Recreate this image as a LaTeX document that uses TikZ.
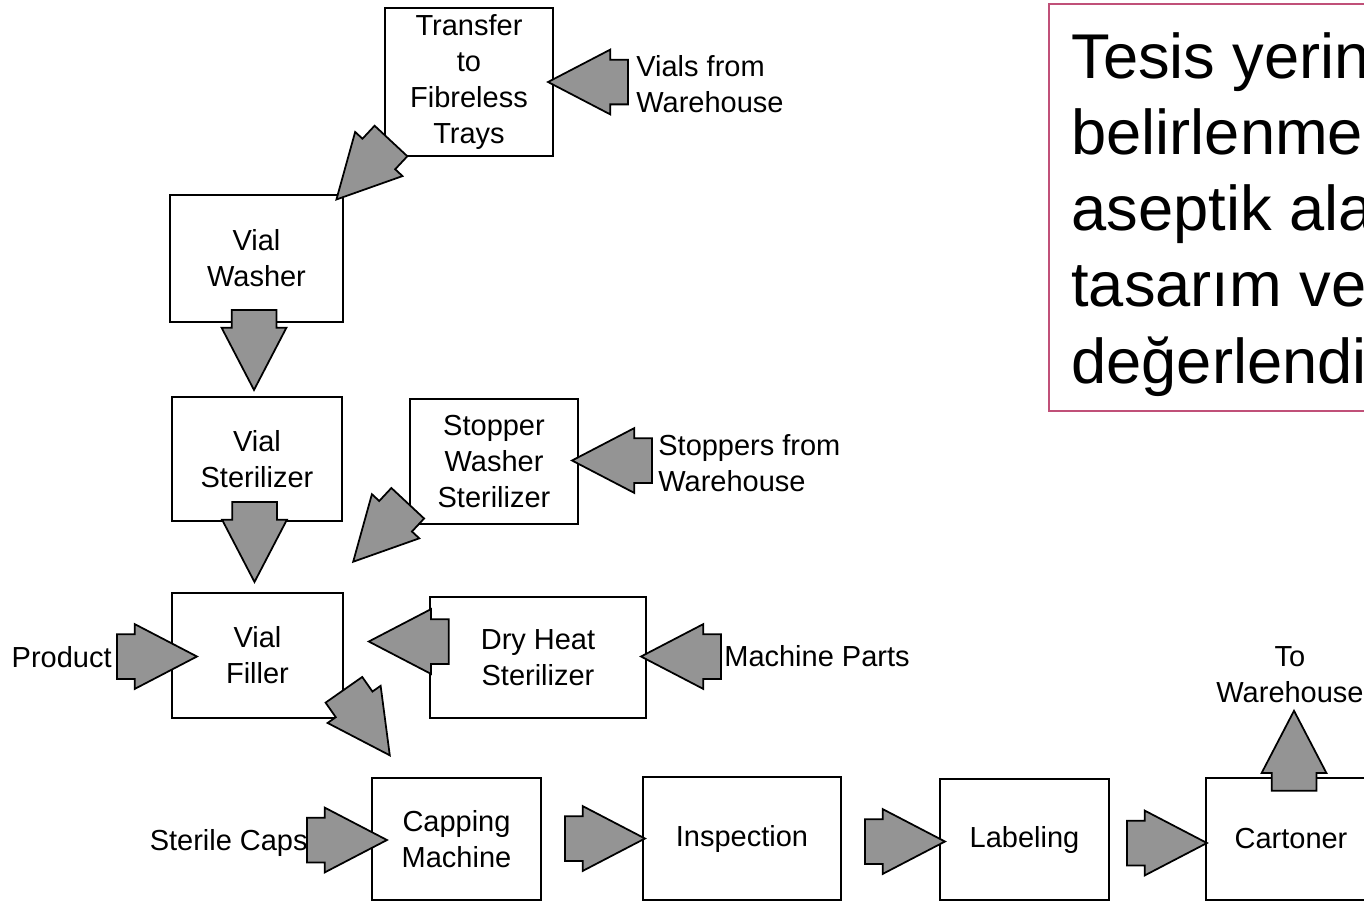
\documentclass[tikz,border=0pt]{standalone}
\usepackage{fontspec}
\setmainfont{Liberation Sans}
\usetikzlibrary{shapes.arrows,calc}
\definecolor{notepink}{RGB}{192,80,120}

\begin{document}
\begin{tikzpicture}[
  x=0.02cm, y=-0.02cm,
  procbox/.style={rectangle, draw, line width=1.3pt, fill=white, align=center,
    inner sep=0pt, font=\fontsize{16.5}{20.5}\selectfont},
  sidetext/.style={align=left, inner sep=0pt, font=\fontsize{16.5}{20.5}\selectfont},
  blockarr/.style={single arrow, draw, line width=1pt, fill=black!42,
    inner xsep=0pt, inner ysep=0.43cm, minimum height=1.6cm,
    single arrow head extend=0.2cm, single arrow tip angle=55, anchor=tip},
  notetext/.style={align=left, inner sep=0pt, font=\fontsize{36}{43.4}\selectfont}
]
\clip (0,0) rectangle (1364,903);

% Vial line
\node[procbox, minimum width=3.36cm, minimum height=2.96cm] (transfer) at (469,82) {Transfer\\to\\Fibreless\\Trays};
\node[procbox, minimum width=3.46cm, minimum height=2.54cm] (washer) at (256.5,258.5) {Vial\\Washer};
\node[procbox, minimum width=3.40cm, minimum height=2.48cm] (vster) at (257,459) {Vial\\Sterilizer};
\node[procbox, minimum width=3.42cm, minimum height=2.50cm] (filler) at (257.5,655.5) {Vial\\Filler};

% Side feeds
\node[procbox, minimum width=3.36cm, minimum height=2.50cm] (stopper) at (494,461.5) {Stopper\\Washer\\Sterilizer};
\node[procbox, minimum width=4.32cm, minimum height=2.42cm] (dryheat) at (538,657.5) {Dry Heat\\Sterilizer};

% Bottom line
\node[procbox, minimum width=3.38cm, minimum height=2.44cm] (capping) at (456.5,839) {Capping\\Machine};
\node[procbox, minimum width=3.96cm, minimum height=2.46cm] (inspect) at (742,838.5) {Inspection};
\node[procbox, minimum width=3.38cm, minimum height=2.42cm] (label) at (1024.5,839.5) {Labeling};
\node[procbox, minimum width=3.40cm, minimum height=2.44cm] (carton) at (1291,839) {Cartoner};

% Inputs and outputs
\node[sidetext, anchor=west] (vialsrc) at (636,84) {Vials from\\Warehouse};
\node[sidetext, anchor=west] (stopsrc) at (658,463) {Stoppers from\\Warehouse};
\node[sidetext, anchor=west] (partsrc) at (724,656) {Machine Parts};
\node[sidetext, anchor=east] (prodsrc) at (112,657) {Product};
\node[sidetext, anchor=east] (capsrc) at (308,843) {Sterile Caps};
\node[sidetext, align=center] (towh) at (1290,675) {To\\Warehouse};

% Block arrows
\node[blockarr, rotate=180] (vialin) at ($(transfer.east)+(-8,0)$) {};
\node[blockarr, rotate=227] (tr2wash) at ($(washer.north east)+(-9,7)$) {};
\node[blockarr, rotate=270] (wash2ster) at ($(vster.north)+(-3,-4)$) {};
\node[blockarr, rotate=270] (ster2fill) at ($(filler.north)+(-3,-8)$) {};
\node[blockarr, rotate=180] (stopin) at ($(stopper.east)+(-9,-1)$) {};
\node[blockarr, rotate=227] (stop2fill) at ($(stopper.south west)+(-57,38)$) {};
\node[blockarr] (prodin) at ($(filler.west)+(28,1)$) {};
\node[blockarr, rotate=180] (dry2fill) at ($(dryheat.west)+(-62,-16)$) {};
\node[blockarr, rotate=180] (partin) at ($(dryheat.east)+(-8,-1)$) {};
\node[blockarr, rotate=305] (fill2cap) at ($(capping.north west)+(20,-20)$) {};
\node[blockarr] (capin) at ($(capping.west)+(18,1)$) {};
\node[blockarr] (cap2insp) at ($(inspect.west)+(5,0)$) {};
\node[blockarr] (insp2lab) at ($(label.west)+(8,2)$) {};
\node[blockarr] (lab2cart) at ($(carton.west)+(4,4)$) {};
\node[blockarr, rotate=90] (cartout) at ($(carton.north)+(3,-68)$) {};

% Note box
\draw[notepink, line width=1.1pt] (1049,4) rectangle (1420,411);
\node[notetext, anchor=north west] (note) at (1071,32) {Tesis yerinin\\belirlenmesi,\\aseptik alan\\tasarım ve\\değerlendirilmesi};

\end{tikzpicture}
\end{document}
